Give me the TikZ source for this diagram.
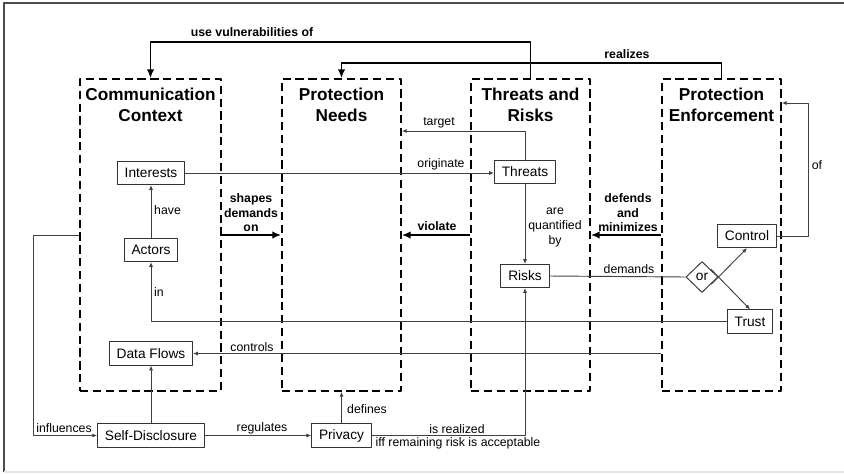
\documentclass[tikz,border=0pt]{standalone}
\usepackage{fontspec}
\setmainfont{Liberation Sans}
\usetikzlibrary{arrows.meta, calc, shapes.geometric}

\begin{document}
\begin{tikzpicture}[x=0.03cm, y=-0.03cm, >=Latex, line join=round,
	area/.style={draw, line width=1.5pt, dash pattern=on 7pt off 4pt,
		minimum width=3.57cm, minimum height=9.36cm, inner sep=0pt},
	title/.style={font=\fontsize{14.7}{17.9}\selectfont\bfseries, align=center, inner sep=0pt},
	box/.style={draw=black!80, line width=0.8pt, fill=white,
		font=\fontsize{11.7}{14}\selectfont, minimum height=0.7cm, inner xsep=6.3pt},
	gate/.style={diamond, draw=black!80, line width=0.8pt, fill=white,
		font=\fontsize{11.7}{14}\selectfont, minimum width=0.96cm, minimum height=0.93cm, inner sep=0pt},
	line/.style={draw=black!75, line width=0.8pt},
	conn/.style={line, -{Latex[length=4pt,width=3.5pt]}},
	bigconn/.style={line width=1.6pt, -{Latex[length=7.5pt,width=6.5pt]}},
	lbl/.style={font=\fontsize{10.5}{12.6}\selectfont, align=center, inner sep=0pt},
	blbl/.style={lbl, font=\fontsize{10.5}{12.4}\selectfont\bfseries}]

\useasboundingbox (0,0) rectangle (844,473);

% ==== Frame ====
\draw[black!70, line width=1.2pt] (844,3) -- (4,3) -- (4,472);
\draw[black!10, line width=1pt] (4,472) -- (844,472);

% ==== Areas ====
\node[area, minimum width=4.23cm] (cc) at (150.5,235) {};
\node[area] (pn) at (341.5,235) {};
\node[area] (tr) at (530.5,235) {};
\node[area] (pe) at (721.5,235) {};
\node[title] (cctitle) at (150.5,104.5) {Communication\\Context};
\node[title] (pntitle) at (341.5,104.5) {Protection\\Needs};
\node[title] (trtitle) at (530.5,104.5) {Threats and\\Risks};
\node[title] (petitle) at (721.5,104.5) {Protection\\Enforcement};

% ==== Elements ====
\node[box] (interests) at (151,173) {Interests};
\node[box] (actors) at (151,250) {Actors};
\node[box] (dataflows) at (151,353.5) {Data Flows};
\node[box] (selfdisc) at (151,435.5) {Self-Disclosure};
\node[box] (privacy) at (341.5,435.5) {Privacy};
\node[box] (threats) at (525,172) {Threats};
\node[box] (risks) at (525,276) {Risks};
\node[box] (control) at (747,236) {Control};
\node[box] (trust) at (750,321.5) {Trust};
\node[gate] (or) at (702,277) {or};

% ==== Relations ====
\coordinate (yuse) at (0,42);
\coordinate (yreal) at (0,63);
\coordinate (ytarget) at (0,131);
\coordinate (yof) at (0,103);
\coordinate (xof) at (808,0);
\coordinate (xinf) at (33,0);

% top loops
\draw[bigconn] (tr.north) -- (tr.north |- yuse) -| (cc.north);
\node[blbl] (luse) at (252,32) {use vulnerabilities of};
\draw[bigconn] (pe.north) -- (pe.north |- yreal) -| (pn.north);
\node[blbl] (lreal) at (627,54) {realizes};

% between the areas
\draw[bigconn] (cc.east) -- (pn.west);
\node[blbl] (lshape) at (251,213) {shapes\\demands\\on};
\draw[bigconn] (tr.west) -- (pn.east);
\node[blbl] (lviol) at (437,226) {violate};
\draw[bigconn] (pe.west) -- (tr.east);
\node[blbl] (ldef) at (628,213) {defends\\and\\minimizes};

% threats and risks
\draw[conn] (threats.north) -- (threats.north |- ytarget) -- (pn.east |- ytarget);
\node[lbl] (ltarget) at (439,123) {target};
\draw[conn] (interests.east) -- (interests.east -| threats.west);
\node[lbl] (lorig) at (441,164) {originate};
\draw[conn] (threats) -- (risks);
\node[lbl, font=\fontsize{10.5}{12.8}\selectfont] (lquant) at (555,227) {are\\quantified\\by};

% enforcement
\draw[line] (risks.east) -- (or.west);
\node[lbl] (ldem) at (629,269) {demands};
\draw[conn] ($(or.east)!-0.25!(control.south)$) -- (control.south);
\draw[conn] ($(or.east)!-0.25!(trust.north)$) -- (trust.north);
\draw[conn] (control.east) -- (control.east -| xof) |- (pe.east |- yof);
\node[lbl] (lof) at (817,165) {of};
\draw[conn] (trust.west) -| (actors.south);
\node[lbl, anchor=west] (lin) at (154,292) {in};
\draw[conn] (pe.west |- dataflows.east) -- (dataflows.east);
\node[lbl] (lctrl) at (252,347) {controls};

% communication context
\draw[conn] (actors) -- (interests);
\node[lbl, anchor=west] (lhave) at (154,210) {have};
\draw[conn] (selfdisc) -- (dataflows);
\draw[conn] (cc.west) -- (cc.west -| xinf) |- (selfdisc.west);
\node[lbl] (linf) at (64,428) {influences};

% privacy
\draw[conn] (selfdisc) -- (privacy);
\node[lbl] (lreg) at (262,428) {regulates};
\draw[conn] (privacy) -- (pn.south);
\node[lbl, anchor=west] (ldefn) at (347,409) {defines};
\draw[conn] (privacy.east) -| (risks.south);
\node[lbl] (lrealz) at (457,429) {is realized};
\node[lbl] (liff) at (458,443) {iff remaining risk is acceptable};

\end{tikzpicture}
\end{document}
